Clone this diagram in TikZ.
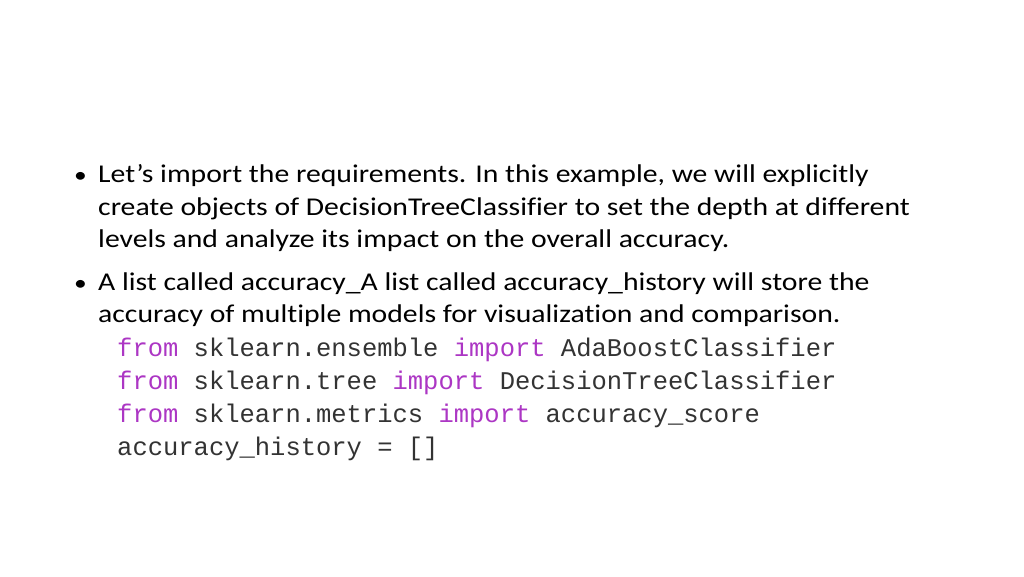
\documentclass[tikz,border=0pt]{standalone}
\usepackage{fontspec}
\setmainfont{Carlito}[FakeStretch=1.16, RawFeature={-liga}]
\setmonofont{Liberation Mono}
\usetikzlibrary{positioning}
\definecolor{kw}{RGB}{172,54,196}
\tikzstyle{line} = [anchor=base west, inner sep=0pt, font=\fontsize{25.6}{32}\selectfont]
\tikzstyle{code} = [anchor=base west, inner sep=0pt, font=\fontsize{25.5}{33}\ttfamily, text=black!80]
\tikzstyle{dot} = [anchor=base west, inner sep=0pt, font=\fontsize{22}{32}\selectfont]

\begin{document}
\begin{tikzpicture}[x=1pt, y=1pt]
            \useasboundingbox[fill=white] (0,0) rectangle (1024,-576);
            % first bullet
            \node[dot, name=b1] at (74,-182) {•};
            \node[line, name=l1] at (98,-182) {Let’s import the requirements. In this example, we will explicitly};
            \node[line, name=l2] at (98,-215) {create objects of DecisionTreeClassifier to set the depth at different};
            \node[line, name=l3] at (98,-247) {levels and analyze its impact on the overall accuracy.};
            % second bullet
            \node[dot, name=b2] at (74,-290) {•};
            \node[line, name=l4] at (98,-290) {A list called accuracy\_A list called accuracy\_history will store the};
            \node[line, name=l5] at (98,-322) {accuracy of multiple models for visualization and comparison.};
            % code lines
            \node[code, name=c1] at (117,-356) {\textcolor{kw}{from} sklearn.ensemble \textcolor{kw}{import} AdaBoostClassifier};
            \node[code, name=c2] at (117,-389) {\textcolor{kw}{from} sklearn.tree \textcolor{kw}{import} DecisionTreeClassifier};
            \node[code, name=c3] at (117,-422) {\textcolor{kw}{from} sklearn.metrics \textcolor{kw}{import} accuracy\_score};
            \node[code, name=c4] at (117,-455) {accuracy\_history = []};
        \end{tikzpicture}
\end{document}
